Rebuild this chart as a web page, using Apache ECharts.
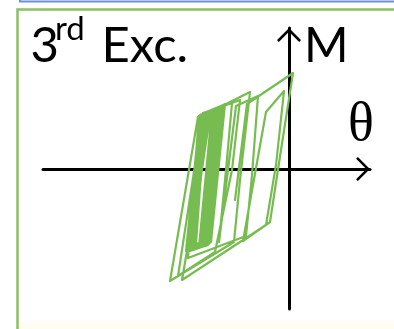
<!DOCTYPE html>
<html>
<head>
<meta charset="utf-8">
<script src="https://cdn.jsdelivr.net/npm/echarts@6/dist/echarts.min.js"></script>
<style>
  html, body { margin: 0; padding: 0; background: #ffffff; }
  #chart { width: 394px; height: 329px; }
</style>
</head>
<body>
<div id="chart"></div>
<script>
// Moment–rotation record of the 3rd excitation, as [θ, M] pairs in plot units.
// Large cycles first, then the many small cycles around the residual rotation.
const largeCycles = [
  [-54, -31], [-42, 65], [4, 96], [-8, 19], [-19, -53], [-46, -72],
  [-23, 57], [-5, 78], [-13, 4], [-23, -56], [-107, -111],
  [-78, 59], [-63, 65], [-39, 77], [-49, -11], [-55, -73], [-119, -112],
  [-91, 52], [-76, 59], [-49, 69], [-57, -1], [-74, -83], [-111, -107],
  [-86, 56], [-57, 66], [-63, -1], [-70, -73],
  [-53, 63], [-31, 73], [-37, -6], [-43, -67], [-101, -89]
];

const residualCycles = [
  [-90, 53], [-67, 63], [-80, -75], [-103, -82],
  [-89, 54], [-65, 64], [-79, -74], [-102, -81],
  [-88, 52], [-69, 61], [-83, -77], [-101, -80],
  [-86, 55], [-71, 60], [-84, -74], [-100, -79],
  [-87, 53], [-66, 62], [-81, -76], [-102, -83],
  [-84, 54], [-73, 59], [-86, -73], [-98, -77],
  [-85, 56], [-68, 63], [-82, -75], [-99, -80],
  [-83, 53], [-70, 61], [-85, -76], [-97, -78],
  [-89, 51], [-75, 58], [-88, -77], [-101, -81],
  [-82, 55], [-64, 65], [-78, -73], [-96, -77],
  [-81, 52], [-72, 58], [-86, -74], [-95, -76],
  [-88, 54], [-77, 59], [-90, -78], [-102, -82],
  [-80, 54], [-67, 61], [-81, -72], [-94, -75],
  [-86, 52], [-74, 58], [-87, -77], [-99, -79],
  [-79, 53], [-69, 60], [-83, -73], [-93, -75],
  [-84, 51], [-76, 57], [-89, -75], [-97, -77]
];

// Axis extents (plot units)
const thetaRange = [-246, 81];
const momentRange = [-140, 141];

// Text
const panelTitle = ['3', 'rd', ' Exc.'];
const thetaLabel = 'θ';
const momentLabel = 'M';

// Open chevron used as the arrowhead of both axes (tip at the top of the path)
const chevron = 'path://M80 0 L160 80 L148 92 L80 24 L12 92 L0 80 Z';

const trace = largeCycles.concat(residualCycles);

const chart = echarts.init(document.getElementById('chart'), null, { renderer: 'canvas' });

const axisLineStyle = {
  show: true,
  onZero: true,
  lineStyle: { color: '#000000', width: 3 },
  symbol: ['none', chevron],
  symbolSize: [24, 14],
  symbolOffset: [0, -7]
};

chart.setOption({
  animation: false,
  backgroundColor: '#ffffff',
  grid: { left: 43, right: 24, top: 28, bottom: 20, containLabel: false },
  xAxis: {
    type: 'value',
    min: thetaRange[0],
    max: thetaRange[1],
    axisLine: axisLineStyle,
    axisTick: { show: false },
    axisLabel: { show: false },
    splitLine: { show: false }
  },
  yAxis: {
    type: 'value',
    min: momentRange[0],
    max: momentRange[1],
    axisLine: axisLineStyle,
    axisTick: { show: false },
    axisLabel: { show: false },
    splitLine: { show: false }
  },
  graphic: [
    // frame of the panel above
    { type: 'rect', z: -20, shape: { x: 20, y: -10, width: 400, height: 11.5 },
      style: { fill: 'none', stroke: '#6d8fd6', lineWidth: 2 } },
    // green panel frame
    { type: 'rect', z: -20, shape: { x: 17.5, y: 9.5, width: 400, height: 400 },
      style: { fill: '#ffffff', stroke: '#8cc063', lineWidth: 2.5 } },
    { type: 'rect', z: -19, shape: { x: 19, y: 322, width: 380, height: 10 },
      style: { fill: '#fffdf0' } },
    // panel title
    { type: 'text', z: 10, x: 30.5, y: 21.7,
      style: { text: panelTitle[0], font: '49px Lato', fill: '#000', verticalAlign: 'top' } },
    { type: 'text', z: 10, x: 55, y: 13,
      style: { text: panelTitle[1], font: '33px Lato', fill: '#000', verticalAlign: 'top' } },
    { type: 'text', z: 10, x: 89, y: 21.7,
      style: { text: panelTitle[2], font: '49px Lato', fill: '#000', verticalAlign: 'top' } },
    // axis names
    { type: 'text', z: 10, x: 304, y: 22.5,
      style: { text: momentLabel, font: '48px Lato', fill: '#000', verticalAlign: 'top' } },
    { type: 'text', z: 10, x: 348, y: 99,
      style: { text: thetaLabel, font: '54px "Liberation Serif"', fill: '#000', verticalAlign: 'top' } }
  ],
  series: [{
    type: 'line',
    data: trace,
    showSymbol: false,
    smooth: false,
    z: 3,
    lineStyle: { color: '#77bc51', width: 2.2, join: 'round', cap: 'round' }
  }]
});
</script>
</body>
</html>
